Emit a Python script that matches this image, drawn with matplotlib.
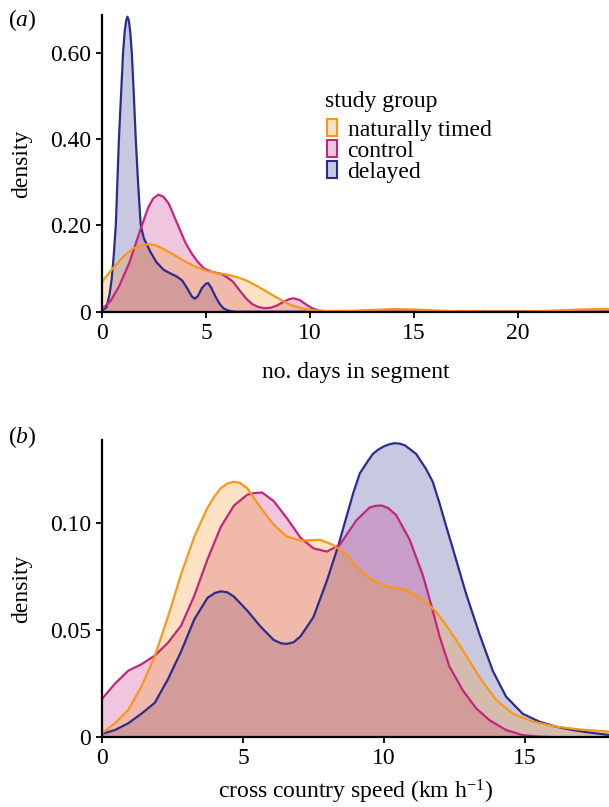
import numpy as np
import matplotlib.pyplot as plt
from matplotlib.patches import Patch

plt.rcParams['font.family'] = 'Liberation Serif'
plt.rcParams['mathtext.fontset'] = 'custom'
plt.rcParams['mathtext.rm'] = 'Liberation Serif'
plt.rcParams['mathtext.it'] = 'Liberation Serif:italic'

# colours
c_nat = '#FA961A'
c_ctl = '#C2267F'
c_del = '#2B2D8E'

groups = ['naturally timed', 'control', 'delayed']

# (a) no. days in segment - density curves
days_del_x = [0, 0.2, 0.35, 0.45, 0.55, 0.65, 0.8, 0.9, 1.0, 1.08, 1.15, 1.21, 1.28, 1.35,
              1.42, 1.52, 1.61, 1.72, 1.85, 2.0, 2.3, 2.6, 2.95, 3.3, 3.6, 3.85, 4.1, 4.3,
              4.45, 4.6, 4.8, 5.0, 5.1, 5.25, 5.45, 5.65, 5.85, 6.1, 6.4, 24.4]
days_del_y = [0.003, 0.01, 0.04, 0.075, 0.13, 0.2, 0.4, 0.5, 0.6, 0.65, 0.674, 0.683, 0.674,
              0.645, 0.6, 0.5, 0.4, 0.3, 0.2, 0.17, 0.14, 0.115, 0.097, 0.088, 0.081, 0.072,
              0.053, 0.036, 0.03, 0.036, 0.055, 0.065, 0.066, 0.055, 0.035, 0.018, 0.007,
              0.002, 0, 0]

days_ctl_x = [0, 0.4, 0.8, 1.3, 1.8, 2.2, 2.45, 2.7, 2.95, 3.2, 3.6, 4.0, 4.3, 4.6, 4.9, 5.3,
              5.7, 6.0, 6.3, 6.6, 6.9, 7.2, 7.5, 7.8, 8.1, 8.4, 8.7, 9.0, 9.2, 9.5, 9.8, 10.1,
              10.4, 10.7, 11.0, 24.4]
days_ctl_y = [0.006, 0.025, 0.058, 0.113, 0.185, 0.24, 0.262, 0.271, 0.266, 0.25, 0.205, 0.16,
              0.135, 0.115, 0.1, 0.092, 0.088, 0.08, 0.069, 0.05, 0.032, 0.018, 0.011, 0.008,
              0.009, 0.014, 0.022, 0.029, 0.031, 0.027, 0.017, 0.008, 0.003, 0.001, 0, 0]

days_nat_x = [0, 0.5, 1.0, 1.5, 2.0, 2.3, 2.6, 3.0, 3.5, 4.0, 4.5, 5.0, 5.5, 6.0, 6.5, 7.0,
              7.5, 8.0, 8.5, 9.0, 9.5, 10.0, 10.5, 11.0, 12.0, 13.0, 14.0, 15.0, 16.0, 17.0,
              18.0, 19.0, 20.0, 21.0, 22.0, 23.0, 24.0, 24.4]
days_nat_y = [0.07, 0.1, 0.127, 0.147, 0.155, 0.156, 0.153, 0.144, 0.13, 0.116, 0.104, 0.095,
              0.089, 0.086, 0.08, 0.071, 0.058, 0.044, 0.03, 0.017, 0.009, 0.004, 0.002, 0.0015,
              0.002, 0.004, 0.006, 0.005, 0.003, 0.001, 0.0005, 0.0003, 0.0003, 0.001, 0.003,
              0.005, 0.006, 0.006]

# (b) cross country speed
spd_del_x = [0, 0.45, 0.92, 1.39, 1.86, 2.33, 2.8, 3.27, 3.74, 4.0, 4.21, 4.45, 4.68, 5.15,
             5.62, 6.09, 6.35, 6.56, 6.8, 7.04, 7.5, 7.98, 8.39, 8.68, 8.92, 9.15, 9.4, 9.61,
             9.8, 10.0, 10.2, 10.38, 10.56, 10.75, 10.95, 11.15, 11.35, 11.5, 11.74, 11.98,
             12.2, 12.45, 12.92, 13.4, 13.87, 14.34, 14.93, 15.52, 16.1, 16.7, 17.3, 18.0]
spd_del_y = [0.0016, 0.0034, 0.0065, 0.011, 0.016, 0.027, 0.04, 0.055, 0.065, 0.0672, 0.068,
             0.0675, 0.0655, 0.059, 0.0516, 0.0453, 0.0438, 0.0435, 0.0443, 0.047, 0.056,
             0.073, 0.0896, 0.103, 0.114, 0.123, 0.128, 0.132, 0.134, 0.1355, 0.1365, 0.137,
             0.1368, 0.136, 0.134, 0.132, 0.128, 0.125, 0.119, 0.109, 0.099, 0.088, 0.067,
             0.048, 0.031, 0.019, 0.011, 0.0073, 0.005, 0.0034, 0.0022, 0.0011]

spd_ctl_x = [0, 0.45, 0.92, 1.39, 1.86, 2.33, 2.8, 3.27, 3.74, 4.21, 4.68, 5.15, 5.4, 5.68,
             6.09, 6.56, 7.04, 7.5, 7.98, 8.43, 9.02, 9.49, 9.7, 9.91, 10.15, 10.44, 10.92,
             11.4, 11.74, 11.98, 12.33, 12.8, 13.28, 13.75, 14.34, 14.93, 15.5, 16.2, 18.0]
spd_ctl_y = [0.018, 0.025, 0.031, 0.034, 0.038, 0.044, 0.052, 0.066, 0.083, 0.098, 0.108,
             0.113, 0.1138, 0.114, 0.11, 0.102, 0.093, 0.088, 0.0865, 0.0896, 0.101, 0.107,
             0.1078, 0.108, 0.1068, 0.1035, 0.092, 0.075, 0.059, 0.047, 0.033, 0.022, 0.0135,
             0.008, 0.0034, 0.001, 0.0003, 0.0, 0.0]

spd_nat_x = [0, 0.45, 0.92, 1.39, 1.86, 2.33, 2.8, 3.27, 3.74, 4.0, 4.21, 4.45, 4.68, 4.9,
             5.15, 5.62, 6.09, 6.56, 7.04, 7.4, 7.74, 8.2, 8.68, 9.02, 9.61, 10.2, 10.8, 11.4,
             11.86, 12.33, 12.8, 13.4, 13.99, 14.58, 15.29, 16.1, 16.9, 18.0]
spd_nat_y = [0.002, 0.0065, 0.0127, 0.0236, 0.0376, 0.056, 0.076, 0.0935, 0.107, 0.1125,
             0.116, 0.1183, 0.119, 0.1185, 0.116, 0.107, 0.099, 0.0935, 0.0916, 0.0918, 0.092,
             0.0896, 0.085, 0.0795, 0.073, 0.07, 0.0686, 0.064, 0.0585, 0.05, 0.0407, 0.028,
             0.0174, 0.011, 0.0073, 0.005, 0.0037, 0.0026]

fig = plt.figure(figsize=(6.09, 8.07), dpi=100)
axa = fig.add_axes([0.168, 0.6138, 0.832, 0.3676])
axb = fig.add_axes([0.168, 0.0864, 0.832, 0.3684])


def kde_area(ax, x, y, col):
    ax.fill_between(x, y, color=col, alpha=0.26, linewidth=0)
    ax.plot(x, y, color=col, lw=1.6, solid_joinstyle='round')


# draw order: delayed at the back, naturally timed in front
kde_area(axa, days_del_x, days_del_y, c_del)
kde_area(axa, days_ctl_x, days_ctl_y, c_ctl)
kde_area(axa, days_nat_x, days_nat_y, c_nat)

kde_area(axb, spd_del_x, spd_del_y, c_del)
kde_area(axb, spd_ctl_x, spd_ctl_y, c_ctl)
kde_area(axb, spd_nat_x, spd_nat_y, c_nat)

for ax in (axa, axb):
    for s in ('top', 'right'):
        ax.spines[s].set_visible(False)
    for s in ('left', 'bottom'):
        ax.spines[s].set_linewidth(1.6)
    ax.tick_params(direction='out', length=4, width=1.3, labelsize=17, pad=4)
    ax.set_ylabel('density', fontsize=17, labelpad=13)

axa.set_xlim(0, 24.4)
axa.set_ylim(0, 0.687)
axa.set_xticks([0, 5, 10, 15, 20])
axa.set_yticks([0, 0.2, 0.4, 0.6])
axa.set_yticklabels(['0', '0.20', '0.40', '0.60'])
axa.set_xlabel('no. days in segment', fontsize=17, labelpad=13)

axb.set_xlim(0, 18.0)
axb.set_ylim(0, 0.1385)
axb.set_xticks([0, 5, 10, 15])
axb.set_yticks([0, 0.05, 0.1])
axb.set_yticklabels(['0', '0.05', '0.10'])
axb.set_xlabel('cross country speed (km h$^{-1}$)', fontsize=17, labelpad=6)

cols = [c_nat, c_ctl, c_del]
handles = [Patch(facecolor=(c, 0.26), edgecolor=c, linewidth=1.5) for c in cols]
leg = axa.legend(handles, groups, fontsize=17, frameon=False, loc='upper left',
                 bbox_to_anchor=(327 / 609, 1 - 119 / 807), bbox_transform=fig.transFigure,
                 borderpad=0, borderaxespad=0, handlelength=0.42, handleheight=0.72,
                 handletextpad=0.45, labelspacing=-0.03)
fig.text(325 / 609, 1 - 101 / 807, 'study group', fontsize=17, va='center', ha='left')

fig.text(8 / 609, 1 - 20 / 807, '($\\mathit{a}$)', fontsize=17, va='center', ha='left')
fig.text(8 / 609, 1 - 437 / 807, '($\\mathit{b}$)', fontsize=17, va='center', ha='left')

fig.savefig('out.png', dpi=100)
